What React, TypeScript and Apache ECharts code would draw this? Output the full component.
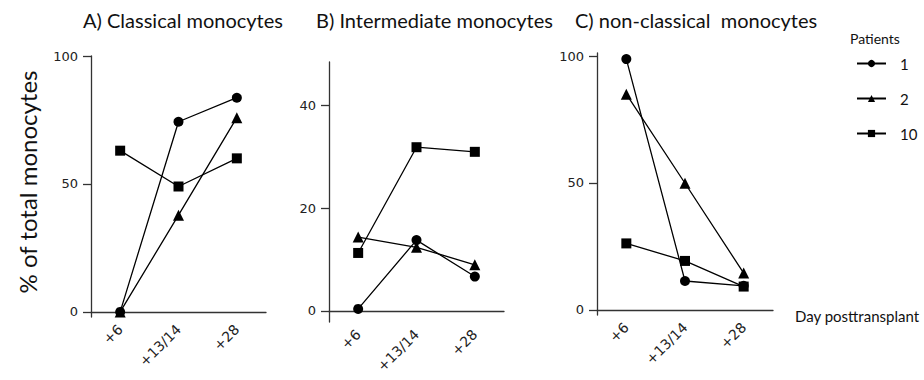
import React, { useEffect, useRef } from "react";
import * as echarts from "echarts";

const categories = ["+6", "+13/14", "+28"];
const patients = ["1", "2", "10"];
const symbols = ["circle", "triangle", "rect"];

// Panel A: Classical monocytes
const classicalP1 = [0, 74.3, 83.7];
const classicalP2 = [0, 37.8, 75.9];
const classicalP10 = [63, 49, 60];

// Panel B: Intermediate monocytes
const intermediateP1 = [0.4, 13.8, 6.7];
const intermediateP2 = [14.4, 12.4, 9.0];
const intermediateP10 = [11.3, 31.9, 31.0];

// Panel C: non-classical monocytes
const nonClassicalP1 = [98.8, 11.4, 9.5];
const nonClassicalP2 = [85, 49.9, 14.5];
const nonClassicalP10 = [26.2, 19.3, 9.2];

const yTicksA = [0, 50, 100];
const yTicksB = [0, 20, 40];
const yTicksC = [0, 50, 100];

const titles = ["A) Classical monocytes", "B) Intermediate monocytes", "C) non-classical  monocytes"];

const FONT = "Lato, 'Open Sans', sans-serif";
const AXIS_COLOR = "#333";

export default function App() {
  const ref = useRef<HTMLDivElement>(null);
  useEffect(() => {
    if (!ref.current) return;
    const chart = echarts.init(ref.current, null, { renderer: "svg" });

    const panels = [
      { data: [classicalP1, classicalP2, classicalP10], ticks: yTicksA, min: -2, max: 100, grid: { left: 91, top: 56, width: 175, height: 261 } },
      { data: [intermediateP1, intermediateP2, intermediateP10], ticks: yTicksB, min: -2.15, max: 48.5, grid: { left: 329, top: 62, width: 175, height: 260 } },
      { data: [nonClassicalP1, nonClassicalP2, nonClassicalP10], ticks: yTicksC, min: -2, max: 101.2, grid: { left: 597, top: 53, width: 176, height: 262 } },
    ];

    const grids = panels.map((p) => ({ ...p.grid, containLabel: false }));
    const xAxes = panels.map((_, i) => ({
      type: "category",
      gridIndex: i,
      data: categories,
      boundaryGap: true,
      axisLine: { onZero: true, lineStyle: { color: AXIS_COLOR, width: 1.3 } },
      axisTick: { alignWithLabel: true, length: 7, lineStyle: { color: AXIS_COLOR, width: 1.3 } },
      axisLabel: { rotate: 45, margin: 10, fontSize: 14, fontFamily: "'DejaVu Sans', sans-serif", color: "#222" },
      splitLine: { show: false },
    }));
    const yAxes = panels.map((p, i) => ({
      type: "value",
      gridIndex: i,
      min: p.min,
      max: p.max,
      axisLine: { show: true, onZero: false, lineStyle: { color: AXIS_COLOR, width: 1.3 } },
      axisTick: { show: true, length: 8, customValues: p.ticks, lineStyle: { color: AXIS_COLOR, width: 1.3 } },
      axisLabel: { customValues: p.ticks, margin: 13, fontSize: 13, fontFamily: "'DejaVu Sans', sans-serif", color: "#222" },
      splitLine: { show: false },
    }));

    const series: any[] = [];
    panels.forEach((p, i) => {
      p.data.forEach((vals, j) => {
        series.push({
          type: "line",
          name: patients[j],
          xAxisIndex: i,
          yAxisIndex: i,
          data: vals,
          symbol: symbols[j],
          symbolSize: j === 1 ? 11 : 10,
          showAllSymbol: true,
          itemStyle: { color: "#000" },
          lineStyle: { color: "#000", width: 1.3 },
          z: 3,
        });
      });
    });

    const titleStyle = { fontFamily: FONT, fontSize: 20, fontWeight: "normal", color: "#111" };
    chart.setOption({
      animation: false,
      backgroundColor: "#fff",
      title: [
        { text: titles[0], left: 83, top: 10, padding: 0, textStyle: titleStyle },
        { text: titles[1], left: 316, top: 10, padding: 0, textStyle: titleStyle },
        { text: titles[2], left: 575, top: 10, padding: 0, textStyle: titleStyle },
        { text: "Patients", left: 850, top: 31, padding: 0, textStyle: { fontFamily: FONT, fontSize: 14, fontWeight: "normal", color: "#111" } },
      ],
      legend: {
        data: patients,
        orient: "vertical",
        left: 856,
        top: 56,
        padding: 0,
        itemWidth: 29,
        itemHeight: 9,
        itemGap: 20,
        textStyle: { fontFamily: FONT, fontSize: 15, color: "#111", padding: [0, 0, 0, 9] },
      },
      graphic: [
        {
          type: "text",
          x: 27,
          y: 182,
          rotation: Math.PI / 2,
          style: { text: "% of total monocytes", font: `24px ${FONT}`, fill: "#111", textAlign: "center", textVerticalAlign: "middle" },
        },
        {
          type: "text",
          x: 795,
          y: 316,
          style: { text: "Day posttransplant", font: `15px ${FONT}`, fill: "#111", textAlign: "left", textVerticalAlign: "middle" },
        },
      ],
      grid: grids,
      xAxis: xAxes,
      yAxis: yAxes,
      series,
    });
    return () => chart.dispose();
  }, []);
  return <div ref={ref} style={{ position: "absolute", left: 0, top: 0, width: 924, height: 380 }} />;
}
